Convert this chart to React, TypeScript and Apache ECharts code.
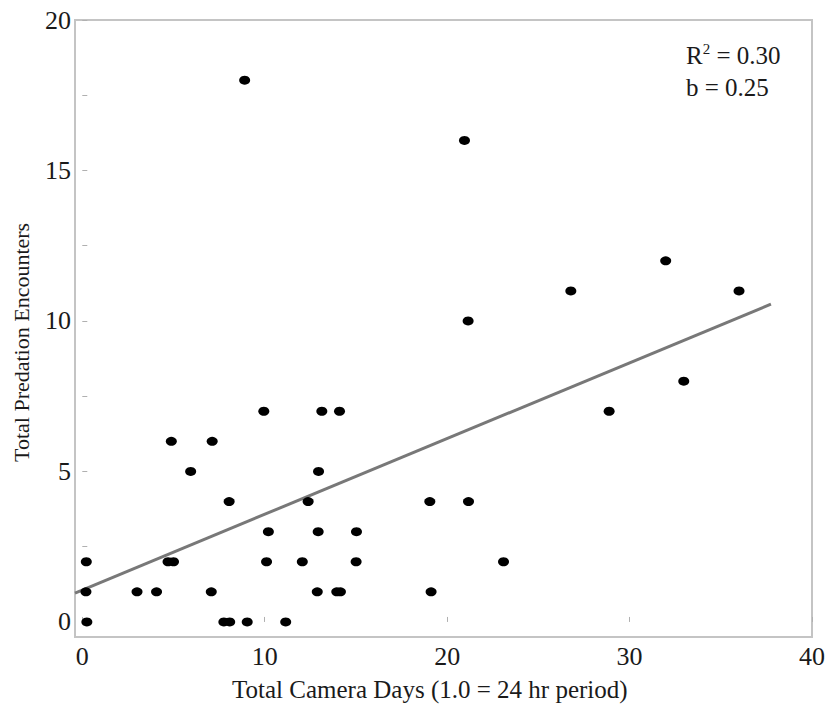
import React, { useEffect, useRef } from "react";
import * as echarts from "echarts";

const cameraDays = [
  0.25, 0.2, 0.22, 3.0, 4.07, 4.7, 5.0, 4.88, 5.94, 7.12, 7.07, 7.76, 8.08, 8.05,
  8.9, 9.04, 9.95, 10.1, 10.2, 11.15, 12.06, 12.38, 12.95, 12.93, 12.88, 13.13,
  14.1, 13.95, 14.15, 15.03, 15.01, 19.05, 19.12, 20.95, 21.15, 21.17, 23.09,
  26.78, 28.88, 31.98, 32.97, 36.0,
];
const encounters = [
  0, 1, 2, 1, 1, 2, 2, 6, 5, 6, 1, 0, 0, 4,
  18, 0, 7, 2, 3, 0, 2, 4, 5, 3, 1, 7,
  7, 1, 1, 3, 2, 4, 1, 16, 10, 4, 2,
  11, 7, 12, 8, 11,
];
const fitX = [-0.4, 37.75];
const fitY = [0.96, 10.56];
const xTickLabels = [0, 10, 20, 30, 40];
const yTickLabels = [0, 5, 10, 15, 20];
const yTicks = [0, 2.5, 5, 7.5, 10, 12.5, 15, 17.5, 20];
const statLines = ["0.30", "0.25"];

const FONT = "'Liberation Serif', 'Times New Roman', serif";

export default function App() {
  const ref = useRef<HTMLDivElement>(null);
  useEffect(() => {
    if (!ref.current) return;
    const chart = echarts.init(ref.current, null, { renderer: "svg" });
    const points = cameraDays.map((x, i) => [x, encounters[i]]);
    const fit = fitX.map((x, i) => [x, fitY[i]]);
    chart.setOption({
      animation: false,
      backgroundColor: "#ffffff",
      grid: {
        left: 75,
        right: 19,
        top: 20,
        bottom: 77,
        show: true,
        borderColor: "#c4c4c4",
        borderWidth: 2,
        backgroundColor: "transparent",
      },
      xAxis: {
        type: "value",
        min: -0.4,
        max: 40,
        splitLine: { show: false },
        axisLine: { show: false },
        axisTick: {
          show: true,
          inside: true,
          length: 5,
          customValues: xTickLabels,
          lineStyle: { color: "#b0b0b0", width: 1 },
        },
        axisLabel: {
          customValues: xTickLabels,
          fontFamily: FONT,
          fontSize: 26,
          color: "#1a1a1a",
          margin: 6,
        },
      },
      yAxis: {
        type: "value",
        min: -0.5,
        max: 20,
        splitLine: { show: false },
        axisLine: { show: false },
        axisTick: {
          show: true,
          inside: true,
          length: 5,
          customValues: yTicks,
          lineStyle: { color: "#b0b0b0", width: 1 },
        },
        axisLabel: {
          customValues: yTickLabels,
          fontFamily: FONT,
          fontSize: 26,
          color: "#1a1a1a",
          margin: 4,
        },
      },
      graphic: [
        {
          type: "text",
          left: 232,
          top: 677,
          style: {
            text: "Total Camera Days (1.0 = 24 hr period)",
            font: `25px ${FONT}`,
            fill: "#1a1a1a",
          },
        },
        {
          type: "text",
          x: 10,
          y: 462,
          rotation: Math.PI / 2,
          style: {
            text: "Total Predation Encounters",
            font: `22px ${FONT}`,
            fill: "#1a1a1a",
            textAlign: "left",
            textVerticalAlign: "top",
          },
        },
        {
          type: "text",
          x: 686,
          y: 36,
          style: {
            text: `{a|R}{s|2}{a| = ${statLines[0]}}\n{a|b = ${statLines[1]}}`,
            rich: {
              a: { fontFamily: FONT, fontSize: 25, fill: "#1a1a1a", lineHeight: 32, verticalAlign: "bottom" },
              s: { fontFamily: FONT, fontSize: 15, fill: "#1a1a1a", lineHeight: 32, verticalAlign: "top", padding: [5, 0, 0, 0] },
            },
          },
        },
      ],
      series: [
        {
          type: "line",
          data: fit,
          symbol: "none",
          lineStyle: { color: "#787878", width: 3 },
          z: 1,
        },
        {
          type: "scatter",
          data: points,
          symbol: "circle",
          symbolSize: [11, 9],
          itemStyle: { color: "#000000", opacity: 1 },
          z: 2,
        },
      ],
    });
    return () => chart.dispose();
  }, []);
  return <div ref={ref} style={{ width: 831, height: 714, position: "absolute", left: 0, top: 0 }} />;
}
